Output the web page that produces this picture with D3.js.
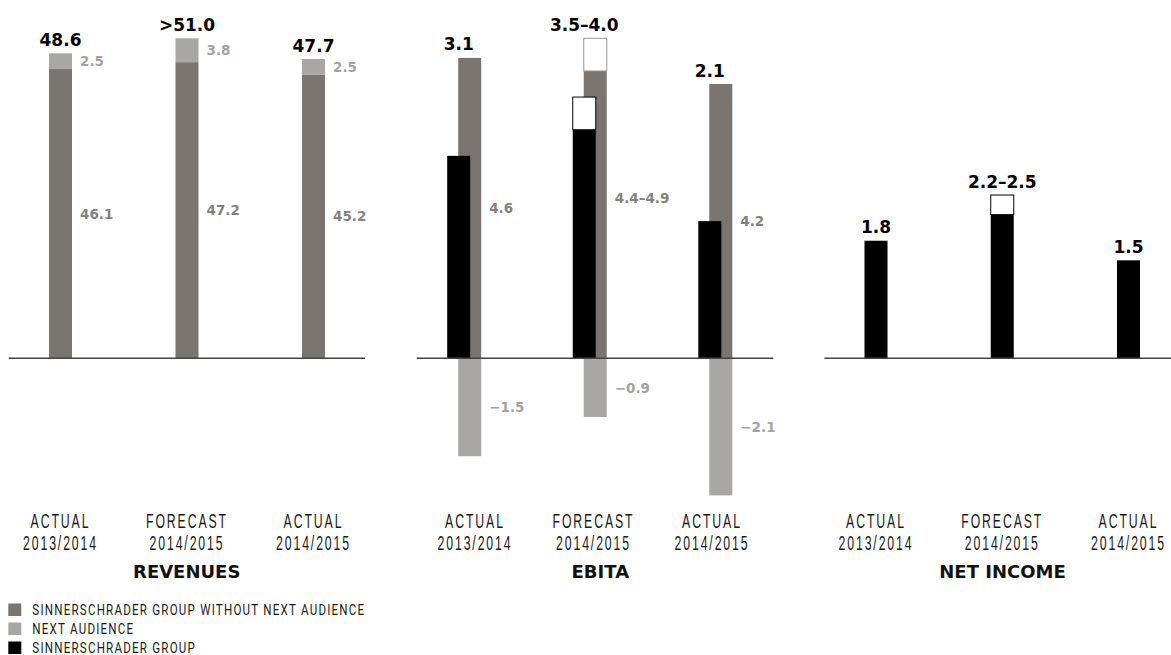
<!DOCTYPE html>
<html>
<head>
<meta charset="utf-8">
<script src="https://cdn.jsdelivr.net/npm/d3@7"></script>
<style>
  html, body { margin: 0; padding: 0; background: #fff; }
  svg { display: block; }
</style>
</head>
<body>
<svg id="chart" width="1171" height="655"></svg>
<script>
// ---- data (EUR million) ----
const periods = ["ACTUAL 2013/2014", "FORECAST 2014/2015", "ACTUAL 2014/2015"];
const periodLines = [["ACTUAL", "2013/2014"], ["FORECAST", "2014/2015"], ["ACTUAL", "2014/2015"]];

const revenueCore = [46.1, 47.2, 45.2];          // SinnerSchrader group without Next Audience
const revenueNextAudience = [2.5, 3.8, 2.5];     // Next Audience
const revenueTotalLabels = ["48.6", ">51.0", "47.7"];
const revenueCoreLabels = ["46.1", "47.2", "45.2"];
const revenueNextLabels = ["2.5", "3.8", "2.5"];

const ebitaCoreLow = [4.6, 4.4, 4.2];
const ebitaCoreHigh = [4.6, 4.9, 4.2];
const ebitaCoreLabels = ["4.6", "4.4\u20134.9", "4.2"];
const ebitaNextAudience = [-1.5, -0.9, -2.1];
const ebitaNextLabels = ["\u22121.5", "\u22120.9", "\u22122.1"];
const ebitaGroupLow = [3.1, 3.5, 2.1];
const ebitaGroupHigh = [3.1, 4.0, 2.1];
const ebitaGroupLabels = ["3.1", "3.5\u20134.0", "2.1"];

const netIncomeLow = [1.8, 2.2, 1.5];
const netIncomeHigh = [1.8, 2.5, 1.5];
const netIncomeLabels = ["1.8", "2.2\u20132.5", "1.5"];

const legendItems = ["SINNERSCHRADER GROUP WITHOUT NEXT AUDIENCE", "NEXT AUDIENCE", "SINNERSCHRADER GROUP"];

// ---- styling ----
const C_CORE = "#7a7571";
const C_NEXT = "#a9a7a5";
const C_GROUP = "#000000";
const C_CORE_TXT = "#85817d";
const C_NEXT_TXT = "#a5a3a1";
const BOLD = "'DejaVu Sans', 'Liberation Sans', sans-serif";
const LIGHT = "Roboto, 'Open Sans', 'Liberation Sans', sans-serif";
const CAPTION = "'Liberation Sans', Arial, sans-serif";
const BAR_W = 23;

const svg = d3.select("#chart");

// y scales: revenues on their own scale, EBITA and net income share one
const yRev = d3.scaleLinear().domain([0, 51]).range([358.3, 38.3]);
const yEarn = d3.scaleLinear().domain([-2.1, 4.9]).range([495.4, 38.3]);

// x positions of the three periods in each panel
const xRev = d3.scalePoint().domain(periods).range([60.5, 313.5]);
const xEbita = d3.scalePoint().domain(periods).range([464.2, 715.3]);
const xEbitaLabel = d3.scalePoint().domain(periods).range([475, 712]);
const xNet = d3.scalePoint().domain(periods).range([876, 1128.5]);

const baselines = [
  { x0: 8.7, x1: 365, y: yRev(0) },
  { x0: 416.7, x1: 773.3, y: yEarn(0) },
  { x0: 824.3, x1: 1171, y: yEarn(0) }
];

function bar(g, x, yScale, v0, v1, fill, stroke) {
  const top = yScale(Math.max(v0, v1)), bot = yScale(Math.min(v0, v1));
  g.append("rect")
    .attr("x", x - BAR_W / 2).attr("width", BAR_W)
    .attr("y", top).attr("height", bot - top)
    .attr("fill", fill)
    .attr("stroke", stroke || "none")
    .attr("stroke-width", stroke ? 1 : 0);
}

function boldLabel(g, x, y, text, size, color, anchor) {
  g.append("text")
    .attr("x", x).attr("y", y)
    .attr("text-anchor", anchor || "middle")
    .attr("font-family", BOLD).attr("font-weight", "bold")
    .attr("font-size", size).attr("fill", color)
    .text(text);
}

// narrow, tracked text (one or more lines)
function narrowText(g, x, y, lines, family, size, sx, anchor, spacing, lineGap) {
  const t = g.append("g").attr("transform", `translate(${x},${y}) scale(${sx},1)`)
    .append("text")
    .attr("text-anchor", anchor)
    .attr("font-family", family).attr("font-weight", 400)
    .attr("font-size", size).attr("letter-spacing", spacing)
    .attr("fill", "#1a1a1a");
  lines.forEach((line, k) => {
    t.append("tspan").attr("x", 0).attr("dy", k === 0 ? 0 : lineGap).text(line);
  });
}

const marks = svg.append("g");

// ---- revenues ----
periods.forEach((p, i) => {
  const cx = xRev(p);
  const total = revenueCore[i] + revenueNextAudience[i];
  bar(marks, cx, yRev, 0, revenueCore[i], C_CORE);
  bar(marks, cx, yRev, revenueCore[i], total, C_NEXT);
  boldLabel(marks, cx, yRev(total) - 7.5, revenueTotalLabels[i], 17, "#000");
  boldLabel(marks, cx + BAR_W / 2 + 8, (yRev(revenueCore[i]) + yRev(total)) / 2 + 5,
    revenueNextLabels[i], 13.5, C_NEXT_TXT, "start");
  boldLabel(marks, cx + BAR_W / 2 + 8, (yRev(0) + yRev(revenueCore[i])) / 2 + 5,
    revenueCoreLabels[i], 13.5, C_CORE_TXT, "start");
});

// ---- EBITA ----
periods.forEach((p, i) => {
  const gx = xEbita(p);
  const coreX = gx + 5.5, groupX = gx - 5.5;
  // group without Next Audience (with forecast range on top)
  bar(marks, coreX, yEarn, 0, ebitaCoreLow[i], C_CORE);
  if (ebitaCoreHigh[i] > ebitaCoreLow[i])
    bar(marks, coreX, yEarn, ebitaCoreLow[i], ebitaCoreHigh[i], "#fff", "#9a9794");
  // Next Audience (negative)
  bar(marks, coreX, yEarn, ebitaNextAudience[i], 0, C_NEXT);
  // SinnerSchrader group
  bar(marks, groupX, yEarn, 0, ebitaGroupLow[i], C_GROUP);
  if (ebitaGroupHigh[i] > ebitaGroupLow[i])
    bar(marks, groupX, yEarn, ebitaGroupLow[i], ebitaGroupHigh[i], "#fff", C_GROUP);

  boldLabel(marks, groupX, yEarn(Math.max(ebitaCoreHigh[i], ebitaGroupHigh[i])) - 7.5,
    ebitaGroupLabels[i], 17, "#000");
  boldLabel(marks, coreX + BAR_W / 2 + 8, (yEarn(0) + yEarn(ebitaCoreHigh[i])) / 2 + 5,
    ebitaCoreLabels[i], 13.5, C_CORE_TXT, "start");
  boldLabel(marks, coreX + BAR_W / 2 + 8, (yEarn(0) + yEarn(ebitaNextAudience[i])) / 2 + 5,
    ebitaNextLabels[i], 13.5, C_NEXT_TXT, "start");
});

// ---- net income ----
periods.forEach((p, i) => {
  const cx = xNet(p);
  bar(marks, cx, yEarn, 0, netIncomeLow[i], C_GROUP);
  if (netIncomeHigh[i] > netIncomeLow[i])
    bar(marks, cx, yEarn, netIncomeLow[i], netIncomeHigh[i], "#fff", C_GROUP);
  boldLabel(marks, cx, yEarn(netIncomeHigh[i]) - 7.5, netIncomeLabels[i], 17, "#000");
});

// ---- zero lines ----
svg.append("g").selectAll("line").data(baselines).join("line")
  .attr("x1", d => d.x0).attr("x2", d => d.x1)
  .attr("y1", d => d.y).attr("y2", d => d.y)
  .attr("stroke", "#444").attr("stroke-width", 1.4);

// ---- period captions ----
const captions = svg.append("g");
[[xRev, 186.7, "REVENUES"], [xEbitaLabel, 600.3, "EBITA"], [xNet, 1002.5, "NET INCOME"]]
  .forEach(([xs, tx, title]) => {
    periods.forEach((p, i) => {
      narrowText(captions, xs(p), 528, periodLines[i], CAPTION, 19.5, 0.63, "middle", 3, 21.8);
    });
    boldLabel(captions, tx, 578, title, 18, "#111");
  });

// ---- legend ----
const legend = svg.append("g");
[C_CORE, C_NEXT, C_GROUP].forEach((c, i) => {
  const y = 603.5 + i * 19;
  legend.append("rect").attr("x", 8.3).attr("y", y).attr("width", 13).attr("height", 12.5).attr("fill", c);
  narrowText(legend, 32.3, y + 11.5, [legendItems[i]], LIGHT, 15, 0.77, "start", 1.6, 0);
});
</script>
</body>
</html>
